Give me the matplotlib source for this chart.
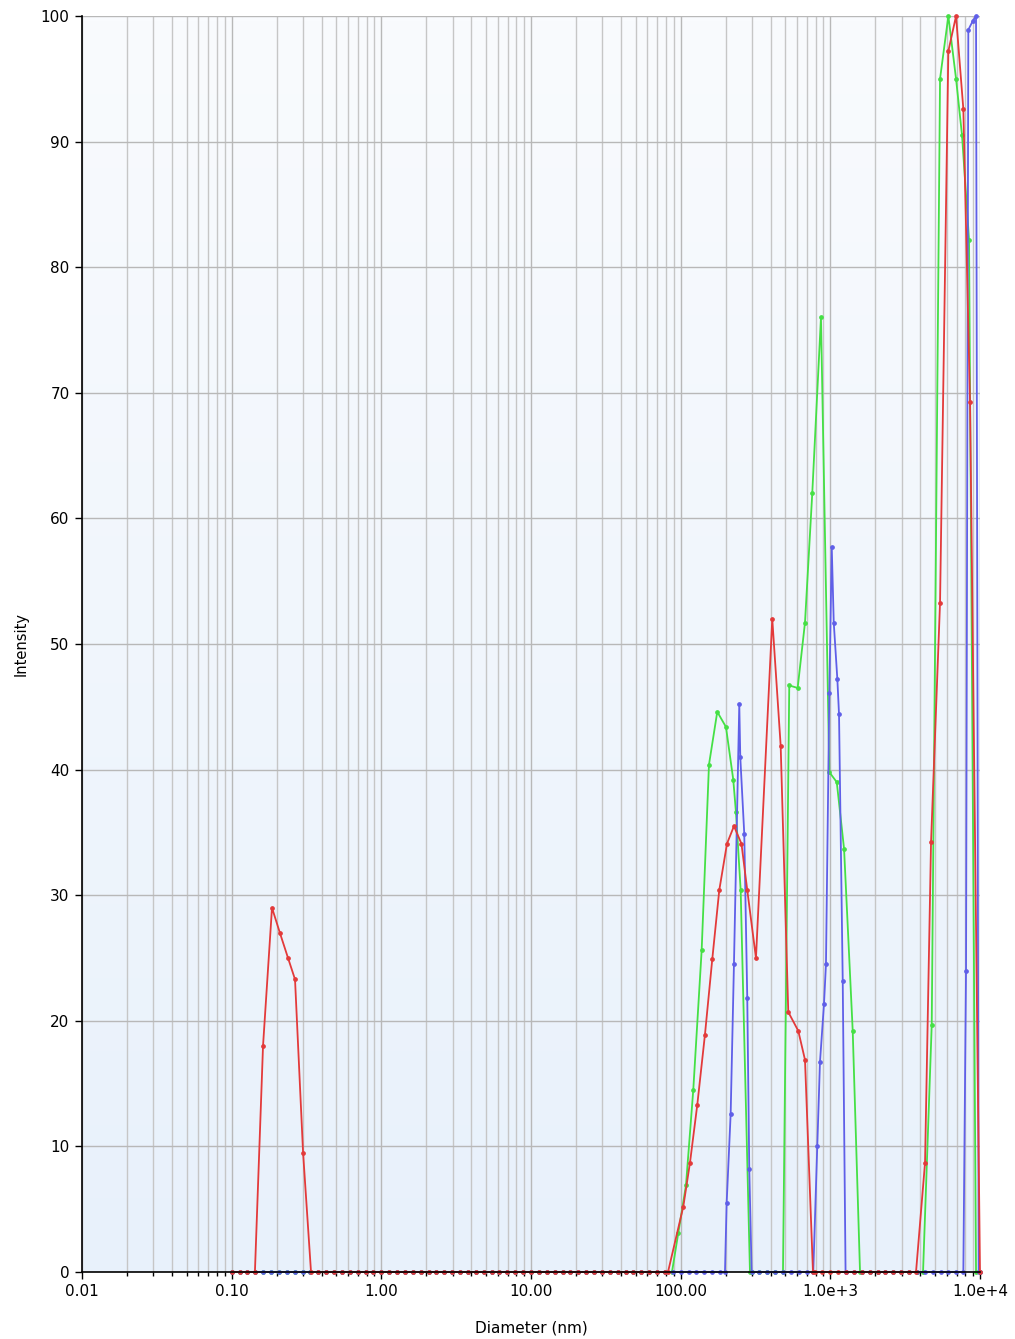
import numpy as np
import matplotlib
matplotlib.use("Agg")
import matplotlib.pyplot as plt
from matplotlib.ticker import FixedLocator, NullFormatter
from matplotlib.colors import LinearSegmentedColormap

# ---------------- data ----------------
# measurement bin grid (instrument size classes, ~19 per decade)
bin_mult = [1.000, 1.129, 1.274, 1.438, 1.624, 1.833, 2.069, 2.336, 2.637, 2.976,
            3.360, 3.793, 4.281, 4.833, 5.456, 6.158, 6.952, 7.848, 8.859]
bin_decades = [0.1, 1.0, 10.0, 100.0, 1000.0]

# red series peaks (diameter nm, intensity)
red_peaks = [
    ([0.143, 0.162, 0.186, 0.210, 0.238, 0.265, 0.300, 0.339],
     [0.0, 18.0, 29.0, 27.0, 25.0, 23.3, 9.5, 0.0]),
    ([82.3, 104.1, 115.4, 129.1, 145.3, 162.6, 181.1, 203.9, 227.0, 254.8, 278.6,
      318.5, 409.3, 465.8, 523.5, 610.6, 677.0, 765.6],
     [0.0, 5.2, 8.7, 13.3, 18.9, 24.9, 30.4, 34.1, 35.5, 34.1, 30.4,
      25.0, 52.0, 41.9, 20.7, 19.2, 16.9, 0.0]),
    ([3737, 4293, 4708, 5408, 6145, 6917, 7738, 8578, 10000],
     [0.0, 8.7, 34.2, 53.3, 97.2, 100.0, 92.6, 69.3, 0.0]),
]
green_peaks = [
    ([87.5, 96.4, 108.5, 121.4, 138.1, 154.6, 175.6, 200.7, 224.6, 234.1, 251.7, 290.4],
     [0.0, 3.1, 6.9, 14.5, 25.6, 40.4, 44.6, 43.4, 39.2, 36.6, 30.4, 0.0]),
    ([482.6, 531.6, 604.9, 677.0, 757.3, 865.8, 984.7, 1104, 1235, 1411, 1579],
     [0.0, 46.7, 46.5, 51.7, 62.0, 76.0, 39.8, 39.0, 33.7, 19.2, 0.0]),
    ([4163, 4759, 5408, 6145, 6917, 7585, 8447, 9408],
     [0.0, 19.7, 95.0, 100.0, 95.0, 90.5, 82.2, 0.0]),
]
blue_peaks = [
    ([197.7, 202.9, 215.8, 227.0, 246.4, 250.2, 266.0, 278.6, 287.3, 298.1],
     [0.0, 5.5, 12.6, 24.5, 45.2, 41.0, 34.9, 21.8, 8.2, 0.0]),
    ([769.1, 817.9, 852.5, 906.6, 935.0, 984.7, 1022, 1054, 1114, 1143, 1210, 1264],
     [0.0, 10.0, 16.7, 21.3, 24.5, 46.1, 57.7, 51.7, 47.2, 44.4, 23.2, 0.0]),
    ([7738, 8066, 8356, 8942, 9408, 9800],
     [0.0, 24.0, 98.9, 99.6, 100.0, 0.0]),
]

x_ticks = [0.01, 0.1, 1.0, 10.0, 100.0, 1000.0, 10000.0]
x_tick_labels = ["0.01", "0.10", "1.00", "10.00", "100.00", "1.0e+3", "1.0e+4"]
y_ticks = [0, 10, 20, 30, 40, 50, 60, 70, 80, 90, 100]

series = [
    ("green", green_peaks, "#45e045"),
    ("blue", blue_peaks, "#5f5fe8"),
    ("red", red_peaks, "#e33a3a"),
]

# ---------------- figure ----------------
W, H = 1015, 1339
fig = plt.figure(figsize=(W / 100, H / 100), dpi=100)
ax = fig.add_axes([82 / W, (H - 1272) / H, (980 - 82) / W, (1272 - 16) / H])

# subtle background gradient
cmap = LinearSegmentedColormap.from_list("bg", ["#f9fbfe", "#e8f1fb"])
grad = np.linspace(0, 1, 256).reshape(-1, 1)
ax.imshow(grad, extent=[0, 1, 0, 1], transform=ax.transAxes, cmap=cmap,
          aspect="auto", zorder=0, origin="upper")

bins = sorted([m * d for d in bin_decades for m in bin_mult] + [10000.0])

for name, peaks, col in series:
    xs, ys = [], []
    ranges = [(min(px), max(px)) for px, _ in peaks]
    for b in bins:
        if not any(lo <= b <= hi for lo, hi in ranges):
            xs.append(b)
            ys.append(0.0)
    for px, py in peaks:
        xs.extend(px)
        ys.extend(py)
    order = np.argsort(xs)
    xs = np.array(xs)[order]
    ys = np.array(ys)[order]
    ax.plot(xs, ys, color=col, lw=1.3, marker="o", ms=2.4, mec=col, mfc=col,
            zorder=3, clip_on=False)

ax.set_xscale("log")
ax.set_xlim(0.01, 10000)
ax.set_ylim(0, 100)

ax.xaxis.set_major_locator(FixedLocator(x_ticks))
ax.set_xticklabels(x_tick_labels)
minor = [m * d for d in [0.01, 0.1, 1, 10, 100, 1000] for m in range(2, 10)]
ax.xaxis.set_minor_locator(FixedLocator(minor))
ax.xaxis.set_minor_formatter(NullFormatter())
ax.set_yticks(y_ticks)

ax.grid(True, which="major", axis="both", color="#b8b8b8", lw=1.0, zorder=1)
ax.grid(True, which="minor", axis="x", color="#c6c6c6", lw=1.0, zorder=1)
ax.set_axisbelow(True)

for s in ["top", "right"]:
    ax.spines[s].set_visible(False)
for s in ["left", "bottom"]:
    ax.spines[s].set_color("black")
    ax.spines[s].set_linewidth(1.2)
    ax.spines[s].set_zorder(4)

ax.tick_params(axis="both", which="major", direction="out", length=5, width=1,
               labelsize=11, colors="black", pad=4)
ax.tick_params(axis="x", which="minor", direction="out", length=3, width=1)

ax.set_xlabel("Diameter (nm)", fontsize=11, labelpad=15)
ax.set_ylabel("Intensity", fontsize=10.5, labelpad=9)

fig.savefig("out.png", dpi=100)
